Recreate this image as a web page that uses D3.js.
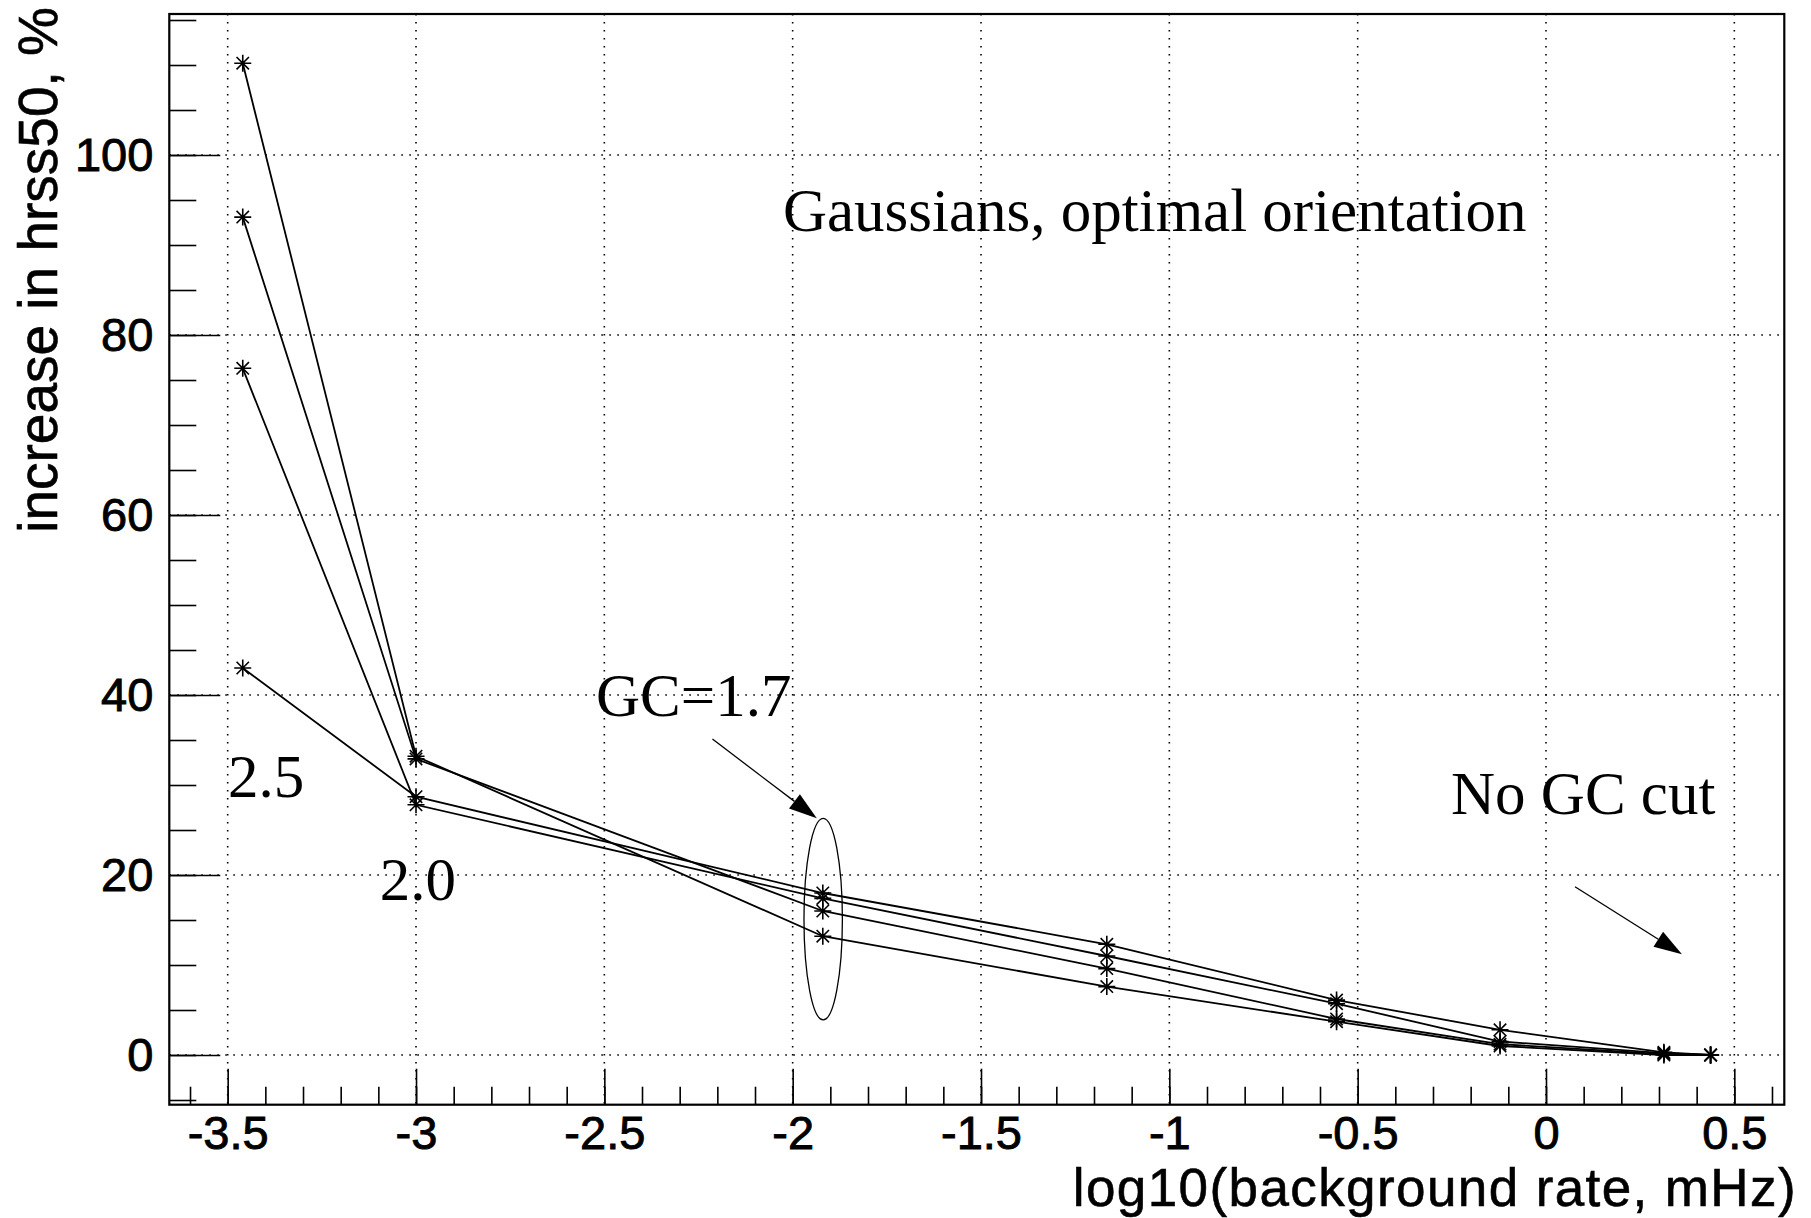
<!DOCTYPE html>
<html>
<head>
<meta charset="utf-8">
<script src="https://cdn.jsdelivr.net/npm/d3@7"></script>
<style>
  body { margin: 0; background: #fff; }
  text { fill: #000; }
</style>
</head>
<body>
<svg id="chart" width="1811" height="1218"></svg>
<script>
// background rate (log10 mHz) for each GC cut, shared by all four curves
const rates = [-3.46, -3.0, -1.92, -1.166, -0.556, -0.122, 0.313, 0.437];
// increase in hrss50 (%) per curve
const curveA = [110.2, 33.2, 13.2, 7.6, 3.7, 1.0, 0.0, 0];
const curveB = [93.1, 32.9, 16.0, 9.6, 4.0, 1.2, 0.1, 0];
const curveC = [76.3, 27.8, 17.4, 11.0, 5.7, 1.5, 0.2, 0];
const curveD = [43.0, 28.7, 18.0, 12.3, 6.1, 2.8, 0.3, 0];

const xMajor = [-3.5, -3, -2.5, -2, -1.5, -1, -0.5, 0, 0.5];
const xTickLabels = ["-3.5", "-3", "-2.5", "-2", "-1.5", "-1", "-0.5", "0", "0.5"];
const yMajor = [0, 20, 40, 60, 80, 100];
const yTickLabels = ["0", "20", "40", "60", "80", "100"];

// text labels and arrows, placed in data coordinates
const labels = [
  { text: "Gaussians, optimal orientation", x: -2.026, y: 91.6 },
  { text: "GC=1.7", x: -2.522, y: 37.7 },
  { text: "2.5", x: -3.499, y: 28.7 },
  { text: "2.0", x: -3.096, y: 17.2 },
  { text: "No GC cut", x: -0.252, y: 26.8 }
];
const arrows = [
  { x1: -2.213, y1: 35.1, x2: -1.936, y2: 26.3 },
  { x1: 0.077, y1: 18.7, x2: 0.361, y2: 11.2 }
];
const ellipse = { cx: -1.919, cy: 15.1, rx: 0.051, ry: 11.2 };

const svg = d3.select("#chart");
const frame = { left: 169.3, right: 1784.3, top: 14, bottom: 1104.7 };

const x = d3.scaleLinear().domain([-3.655, 0.6327]).range([frame.left, frame.right]);
const y = d3.scaleLinear().domain([-5.522, 115.667]).range([frame.bottom, frame.top]);

const sans = "'Liberation Sans', Arial, Helvetica, sans-serif";
const serif = "'Liberation Serif', 'Times New Roman', serif";

// dotted grid at the major ticks
const grid = svg.append("g")
  .attr("stroke", "#000")
  .attr("stroke-width", 1.6)
  .attr("stroke-dasharray", "1.6,6.4");
grid.selectAll(".gx").data(xMajor).enter().append("line")
  .attr("x1", d => x(d)).attr("x2", d => x(d))
  .attr("y1", frame.top).attr("y2", frame.bottom);
grid.selectAll(".gy").data(yMajor).enter().append("line")
  .attr("y1", d => y(d)).attr("y2", d => y(d))
  .attr("x1", frame.left).attr("x2", frame.right);

// axes: ticks point inward, minor ticks without labels
const xMinor = d3.range(-36, 7).map(i => i / 10);
const yMinor = d3.range(-1, 24).map(i => i * 5);

svg.append("g")
  .attr("transform", `translate(0,${frame.bottom})`)
  .call(d3.axisBottom(x).tickValues(xMinor).tickSize(-18).tickFormat(""));
const xAxis = svg.append("g")
  .attr("transform", `translate(0,${frame.bottom})`)
  .call(d3.axisBottom(x).tickValues(xMajor).tickSize(-36).tickPadding(11)
    .tickFormat((d, i) => xTickLabels[i]));

svg.append("g")
  .attr("transform", `translate(${frame.left},0)`)
  .call(d3.axisLeft(y).tickValues(yMinor).tickSize(-27).tickFormat(""));
const yAxis = svg.append("g")
  .attr("transform", `translate(${frame.left},0)`)
  .call(d3.axisLeft(y).tickValues(yMajor).tickSize(-51).tickPadding(16)
    .tickFormat((d, i) => yTickLabels[i]));

svg.selectAll(".domain").remove();
svg.selectAll(".tick line").attr("stroke", "#000").attr("stroke-width", 1.6);
svg.selectAll(".tick text")
  .attr("font-family", sans).attr("font-size", 47)
  .attr("stroke", "#000").attr("stroke-width", 0.9);

// frame
svg.append("rect")
  .attr("x", frame.left).attr("y", frame.top)
  .attr("width", frame.right - frame.left).attr("height", frame.bottom - frame.top)
  .attr("fill", "none").attr("stroke", "#000").attr("stroke-width", 2.2);

// curves
const line = d3.line().x(d => x(d[0])).y(d => y(d[1]));
const curves = [curveA, curveB, curveC, curveD].map(vals => rates.map((r, i) => [r, vals[i]]));

svg.append("g").selectAll("path").data(curves).enter().append("path")
  .attr("d", line)
  .attr("fill", "none").attr("stroke", "#000").attr("stroke-width", 1.8);

const star = "M-8.5,0H8.5M0,-8.5V8.5M-6.2,-6.2L6.2,6.2M-6.2,6.2L6.2,-6.2";
svg.append("g").selectAll("path").data(curves.flat()).enter().append("path")
  .attr("d", star)
  .attr("transform", d => `translate(${x(d[0])},${y(d[1])})`)
  .attr("fill", "none").attr("stroke", "#000").attr("stroke-width", 1.6);

// annotations
svg.append("g").selectAll("text").data(labels).enter().append("text")
  .attr("x", d => x(d.x)).attr("y", d => y(d.y))
  .attr("font-family", serif).attr("font-size", 61)
  .text(d => d.text);

arrows.forEach(a => {
  const x1 = x(a.x1), y1 = y(a.y1), x2 = x(a.x2), y2 = y(a.y2);
  const ang = Math.atan2(y2 - y1, x2 - x1);
  const len = 28, half = 9;
  const bx = x2 - len * Math.cos(ang), by = y2 - len * Math.sin(ang);
  svg.append("line")
    .attr("x1", x1).attr("y1", y1).attr("x2", bx).attr("y2", by)
    .attr("stroke", "#000").attr("stroke-width", 1.3);
  svg.append("polygon")
    .attr("points", [
      [x2, y2],
      [bx + half * Math.sin(ang), by - half * Math.cos(ang)],
      [bx - half * Math.sin(ang), by + half * Math.cos(ang)]
    ].map(p => p.join(",")).join(" "))
    .attr("fill", "#000");
});

svg.append("ellipse")
  .attr("cx", x(ellipse.cx)).attr("cy", y(ellipse.cy))
  .attr("rx", x(ellipse.cx + ellipse.rx) - x(ellipse.cx))
  .attr("ry", y(ellipse.cy - ellipse.ry) - y(ellipse.cy))
  .attr("fill", "none").attr("stroke", "#000").attr("stroke-width", 1.3);

// axis titles
svg.append("text")
  .attr("x", 1797).attr("y", 1206)
  .attr("text-anchor", "end")
  .attr("font-family", sans).attr("font-size", 53)
  .attr("letter-spacing", 1.4)
  .attr("stroke", "#000").attr("stroke-width", 0.6)
  .text("log10(background rate, mHz)");

svg.append("text")
  .attr("transform", "translate(57,7) rotate(-90)")
  .attr("text-anchor", "end")
  .attr("font-family", sans).attr("font-size", 55)
  .attr("stroke", "#000").attr("stroke-width", 0.6)
  .text("increase in hrss50, %");
</script>
</body>
</html>
